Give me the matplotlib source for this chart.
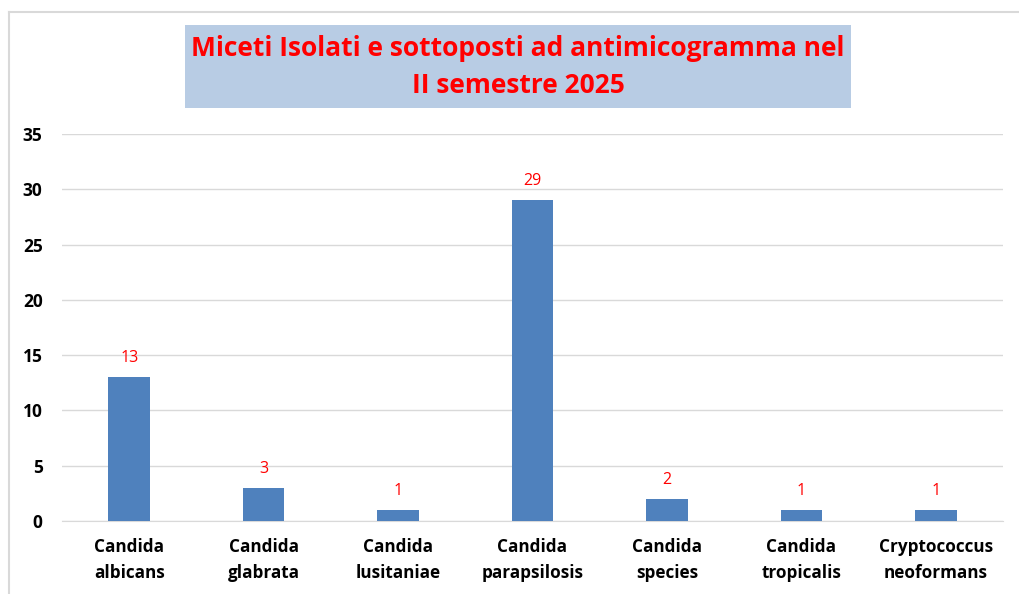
import matplotlib.pyplot as plt
from matplotlib.patches import Rectangle
from matplotlib.lines import Line2D
import numpy as np

categories = ['Candida\nalbicans', 'Candida\nglabrata', 'Candida\nlusitaniae',
              'Candida\nparapsilosis', 'Candida\nspecies', 'Candida\ntropicalis',
              'Cryptococcus\nneoformans']
counts = [13, 3, 1, 29, 2, 1, 1]
yticks = [0, 5, 10, 15, 20, 25, 30, 35]

W, H = 1019, 594
fig = plt.figure(figsize=(W / 100, H / 100), dpi=100)
plt.rcParams['font.family'] = ['Open Sans', 'DejaVu Sans']

# cornice del grafico (solo lato sinistro e superiore visibili)
fig.lines.append(Line2D([9 / W, 9 / W], [0, (H - 12) / H], transform=fig.transFigure,
                        color='#d9d9d9', linewidth=1.5))
fig.lines.append(Line2D([9 / W, 1], [(H - 12) / H, (H - 12) / H], transform=fig.transFigure,
                        color='#d9d9d9', linewidth=1.5))

ax = fig.add_axes([62 / W, (H - 521) / H, (1003 - 62) / W, (521 - 134) / H])
x = np.arange(len(categories))
ax.bar(x, counts, width=0.31, color='#4f81bd', zorder=3)
ax.set_xlim(-0.5, len(categories) - 0.5)
ax.set_ylim(0, 35)
ax.set_yticks(yticks)
ax.grid(axis='y', color='#d9d9d9', linewidth=1, zorder=0)
for s in ['top', 'right', 'left']:
    ax.spines[s].set_visible(False)
ax.spines['bottom'].set_color('#d9d9d9')
ax.tick_params(length=0)
ax.tick_params(axis='y', pad=14)
ax.tick_params(axis='x', pad=12)
ax.set_xticks(x)
ax.set_xticklabels(categories, fontsize=12.3, fontweight='bold', linespacing=1.6)
for lab in ax.get_yticklabels():
    lab.set_fontsize(12.5)
    lab.set_fontweight('bold')

for xi, v in zip(x, counts):
    ax.annotate(str(v), (xi, v), xytext=(0, 8), textcoords='offset points',
                ha='center', va='bottom', color='red', fontsize=11.5)

# titolo con riquadro
fig.patches.append(Rectangle((185 / W, (H - 108) / H), (851 - 185) / W, 83 / H,
                             transform=fig.transFigure, facecolor='#b8cce4', edgecolor='none'))
fig.text(518 / W, (H - 67) / H, 'Miceti Isolati e sottoposti ad antimicogramma nel\nII semestre 2025',
         ha='center', va='center', color='red', fontsize=19, fontweight='bold', linespacing=1.5)

fig.savefig('out.png', dpi=100)
